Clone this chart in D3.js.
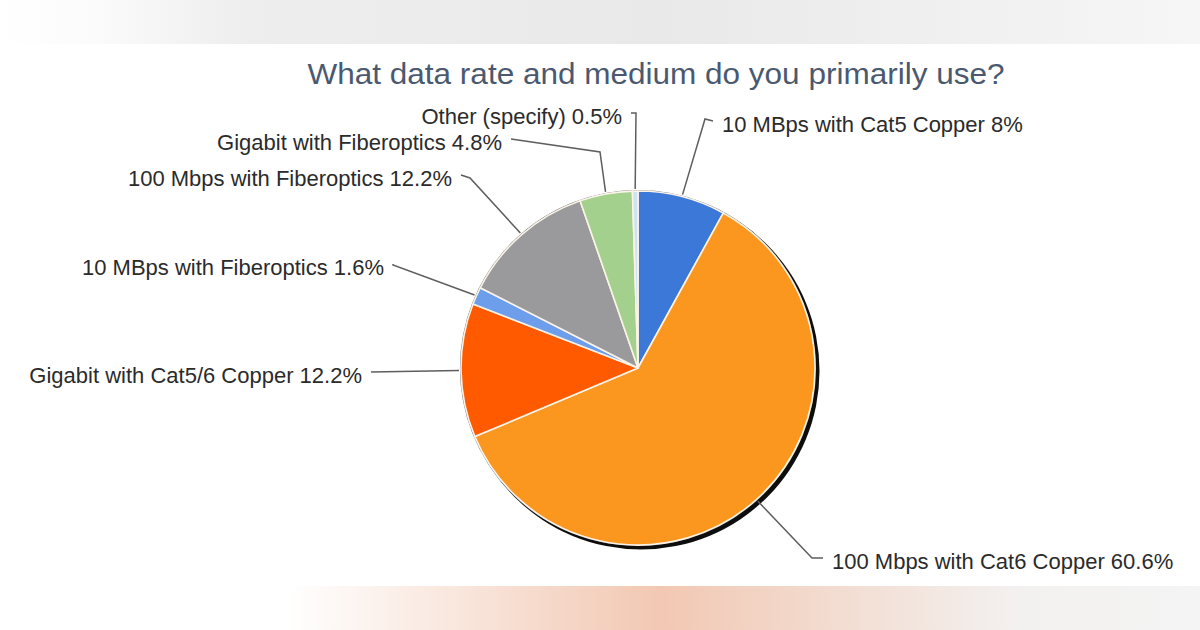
<!DOCTYPE html>
<html>
<head>
<meta charset="utf-8">
<script src="https://cdn.jsdelivr.net/npm/d3@7"></script>
<style>
  body { margin: 0; background: #fff; }
  svg { display: block; font-family: "Liberation Sans", Arial, sans-serif; }
</style>
</head>
<body>
<div id="chart"></div>
<script>
var title = "What data rate and medium do you primarily use?";

var categories = [
    "10 MBps with Cat5 Copper",
    "100 Mbps with Cat6 Copper",
    "Gigabit with Cat5/6 Copper",
    "10 MBps with Fiberoptics",
    "100 Mbps with Fiberoptics",
    "Gigabit with Fiberoptics",
    "Other (specify)"
];
var values = [8, 60.6, 12.2, 1.6, 12.2, 4.8, 0.5];
var colors = ["#3c78d8", "#fb961f", "#ff5a00", "#6d9eeb", "#9a999c", "#a3d08c", "#cfe2f3"];

// label placement: text anchor point, side, elbow of the leader line
var labelPos = [[722, 124], [832, 561], [362, 375], [384, 267], [452, 178], [502, 142], [622, 116]];
var labelSide = ["start", "start", "end", "end", "end", "end", "end"];
var elbows = [[705, 119], [812, 558], [371, 372], [393, 265], [470, 178], [600, 152], [636, 113]];

var width = 1200, height = 630;
var cx = 638, cy = 368, radius = 177;

var svg = d3.select("#chart").append("svg")
    .attr("width", width)
    .attr("height", height);

var defs = svg.append("defs");

var topGrad = defs.append("linearGradient").attr("id", "topGrad");
topGrad.append("stop").attr("offset", "0%").attr("stop-color", "#ffffff");
topGrad.append("stop").attr("offset", "8%").attr("stop-color", "#fbfbfb");
topGrad.append("stop").attr("offset", "20%").attr("stop-color", "#eeeeee");
topGrad.append("stop").attr("offset", "55%").attr("stop-color", "#e9e9e9");
topGrad.append("stop").attr("offset", "100%").attr("stop-color", "#f6f6f6");

var botGrad = defs.append("linearGradient").attr("id", "botGrad");
botGrad.append("stop").attr("offset", "0%").attr("stop-color", "#ffffff");
botGrad.append("stop").attr("offset", "24%").attr("stop-color", "#ffffff");
botGrad.append("stop").attr("offset", "55%").attr("stop-color", "#f2c8b3");
botGrad.append("stop").attr("offset", "85%").attr("stop-color", "#f3f1f0");
botGrad.append("stop").attr("offset", "100%").attr("stop-color", "#f4f4f4");

svg.append("rect").attr("width", width).attr("height", 44).attr("fill", "url(#topGrad)");
svg.append("rect").attr("y", 586).attr("width", width).attr("height", 44).attr("fill", "url(#botGrad)");

svg.append("text")
    .attr("x", 656)
    .attr("y", 74)
    .attr("dy", "0.35em")
    .attr("text-anchor", "middle")
    .attr("textLength", 697)
    .attr("lengthAdjust", "spacingAndGlyphs")
    .attr("fill", "#4b5970")
    .style("font-size", "29px")
    .text(title);

var pie = d3.pie().sort(null).value(function(d) { return d; });
var arcs = pie(values);

var arc = d3.arc().innerRadius(0).outerRadius(radius);
var edge = d3.arc().innerRadius(radius + 2).outerRadius(radius + 2);

var g = svg.append("g").attr("transform", "translate(" + cx + "," + cy + ")");

// dark rim on the lower right
g.append("circle")
    .attr("cx", 3)
    .attr("cy", 3)
    .attr("r", radius + 1.5)
    .attr("fill", "#0d0d0d");

g.append("circle")
    .attr("r", radius + 0.5)
    .attr("fill", "none")
    .attr("stroke", "#6a6a6a")
    .attr("stroke-width", 1.2);

g.selectAll("path.slice")
    .data(arcs)
    .enter().append("path")
    .attr("class", "slice")
    .attr("d", arc)
    .attr("fill", function(d, i) { return colors[i]; })
    .attr("stroke", "#fbf3e8")
    .attr("stroke-width", 1.6)
    .attr("stroke-linejoin", "round");

var leader = d3.line();

svg.selectAll("path.leader")
    .data(arcs)
    .enter().append("path")
    .attr("class", "leader")
    .attr("fill", "none")
    .attr("stroke", "#5e5e5e")
    .attr("stroke-width", 1.5)
    .attr("d", function(d, i) {
        var p = edge.centroid(d);
        var tailX = labelSide[i] === "start" ? labelPos[i][0] - 9 : labelPos[i][0] + 9;
        return leader([[cx + p[0], cy + p[1]], elbows[i], [tailX, labelPos[i][1] - 3]]);
    });

svg.selectAll("text.label")
    .data(arcs)
    .enter().append("text")
    .attr("class", "label")
    .attr("x", function(d, i) { return labelPos[i][0]; })
    .attr("y", function(d, i) { return labelPos[i][1]; })
    .attr("dy", "0.35em")
    .attr("text-anchor", function(d, i) { return labelSide[i]; })
    .attr("fill", "#2b2b2b")
    .style("font-size", "22px")
    .text(function(d, i) { return categories[i] + " " + values[i] + "%"; });
</script>
</body>
</html>
